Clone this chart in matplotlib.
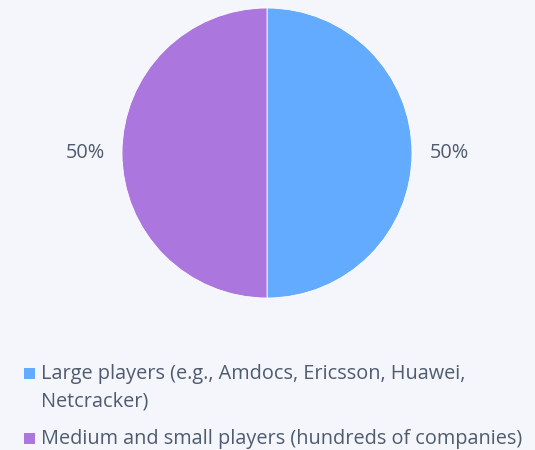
import matplotlib.pyplot as plt
from matplotlib.patches import Rectangle

# Data
labels = ['Large players (e.g., Amdocs, Ericsson, Huawei,\nNetcracker)',
          'Medium and small players (hundreds of companies)']
shares = [50, 50]
colors = ['#63abff', '#ab76de']

bg = '#f5f6fb'
text_color = '#4f5b6e'
plt.rcParams['font.family'] = ['Open Sans', 'DejaVu Sans']

W, H = 535, 450
fig = plt.figure(figsize=(W / 100, H / 100), dpi=100, facecolor=bg)

# pie axes placed in pixel terms: centre (267,153), radius 145
cx, cy, r = 267, 153, 145
ax = fig.add_axes([(cx - r) / W, (H - cy - r) / H, 2 * r / W, 2 * r / H])
ax.set_facecolor(bg)
ax.pie(shares, colors=colors, startangle=90, counterclock=False,
       autopct='%d%%', pctdistance=1.255,
       wedgeprops=dict(edgecolor='white', linewidth=0.6),
       textprops=dict(color=text_color, fontsize=14.3))
ax.set_xlim(-1, 1)
ax.set_ylim(-1, 1)
ax.set_aspect('equal')
ax.axis('off')

# legend drawn by hand so the marker sits on the first text line
baselines = [379, 444]
line_gap = 27
for label, color, base in zip(labels, colors, baselines):
    fig.patches.append(Rectangle((24 / W, 1 - (base) / H), 11 / W, 11 / H,
                                 transform=fig.transFigure, facecolor=color,
                                 edgecolor='none'))
    for i, line in enumerate(label.split('\n')):
        fig.text(41 / W, 1 - (base + i * line_gap) / H, line,
                 fontsize=14.3, color=text_color, va='baseline', ha='left')

fig.savefig('out.png', dpi=100, facecolor=bg)
